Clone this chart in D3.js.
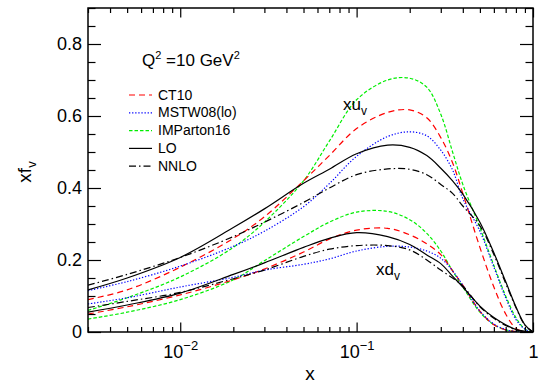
<!DOCTYPE html>
<html>
<head>
<meta charset="UTF-8">
<title>Valence distributions xf_v at Q2 = 10 GeV2</title>
<script src="https://cdnjs.cloudflare.com/ajax/libs/d3/7.8.5/d3.min.js"></script>
<style>
  body { margin: 0; background: #fff; }
  svg { display: block; font-family: "Liberation Sans", Arial, sans-serif; }
  .tick line { stroke: #000; stroke-width: 1.2; }
  .tick text { font-size: 18px; fill: #000; }
  .curve { fill: none; stroke-width: 1.2; }
  .legend text { font-size: 14px; }
</style>
</head>
<body>
<div id="chart"></div>
<script>
const xGrid = [0.003, 0.005, 0.01, 0.02, 0.03, 0.05, 0.07, 0.1, 0.15, 0.2, 0.25, 0.3, 0.35, 0.4, 0.5, 0.6, 0.7, 0.8, 0.9, 1.0];

// x*u_v
const uCT10 = [0.090, 0.117, 0.180, 0.260, 0.320, 0.420, 0.490, 0.565, 0.610, 0.617, 0.595, 0.540, 0.470, 0.385, 0.235, 0.125, 0.050, 0.010, 0.001, 0];
const uMSTW = [0.115, 0.140, 0.183, 0.238, 0.280, 0.348, 0.412, 0.488, 0.543, 0.556, 0.545, 0.505, 0.450, 0.370, 0.280, 0.180, 0.095, 0.035, 0.008, 0];
const uIMP  = [0.060, 0.095, 0.153, 0.235, 0.305, 0.420, 0.530, 0.645, 0.700, 0.705, 0.680, 0.605, 0.500, 0.410, 0.290, 0.185, 0.100, 0.040, 0.008, 0];
const uLO   = [0.117, 0.150, 0.207, 0.290, 0.342, 0.413, 0.452, 0.495, 0.519, 0.513, 0.490, 0.455, 0.420, 0.383, 0.305, 0.220, 0.140, 0.070, 0.020, 0];
const uNNLO = [0.130, 0.160, 0.207, 0.265, 0.305, 0.360, 0.400, 0.437, 0.453, 0.452, 0.437, 0.410, 0.385, 0.350, 0.295, 0.215, 0.135, 0.068, 0.019, 0];

// x*d_v
const dCT10 = [0.050, 0.070, 0.103, 0.145, 0.175, 0.222, 0.258, 0.283, 0.288, 0.270, 0.245, 0.215, 0.170, 0.130, 0.058, 0.020, 0.006, 0.001, 0, 0];
const dMSTW = [0.078, 0.095, 0.125, 0.152, 0.172, 0.188, 0.203, 0.225, 0.238, 0.236, 0.225, 0.205, 0.170, 0.130, 0.058, 0.022, 0.007, 0.001, 0, 0];
const dIMP  = [0.036, 0.055, 0.090, 0.145, 0.198, 0.265, 0.305, 0.333, 0.335, 0.312, 0.274, 0.225, 0.170, 0.125, 0.055, 0.020, 0.006, 0.001, 0, 0];
const dLO   = [0.055, 0.075, 0.108, 0.160, 0.192, 0.235, 0.260, 0.276, 0.265, 0.243, 0.214, 0.190, 0.155, 0.125, 0.072, 0.040, 0.020, 0.007, 0.002, 0];
const dNNLO = [0.068, 0.085, 0.110, 0.148, 0.172, 0.210, 0.230, 0.240, 0.240, 0.228, 0.200, 0.172, 0.150, 0.128, 0.070, 0.038, 0.018, 0.006, 0.001, 0];

const pdfNames = ["CT10", "MSTW08(lo)", "IMParton16", "LO", "NNLO"];
const yMajor = [0, 0.2, 0.4, 0.6, 0.8];
const xMajor = [0.01, 0.1, 1];

const width = 541, height = 385;
const plot = {left: 88, right: 533, top: 8, bottom: 332};

const styles = {
  "CT10":       {color: "#ff0000", dash: "6,4"},
  "MSTW08(lo)": {color: "#0000ff", dash: "1.3,1.8"},
  "IMParton16": {color: "#00ee00", dash: "3.5,2"},
  "LO":         {color: "#000000", dash: null},
  "NNLO":       {color: "#000000", dash: "7,3,1.5,3"}
};

const series = [
  {name: "IMParton16", u: uIMP,  d: dIMP},
  {name: "CT10",       u: uCT10, d: dCT10},
  {name: "MSTW08(lo)", u: uMSTW, d: dMSTW},
  {name: "NNLO",       u: uNNLO, d: dNNLO},
  {name: "LO",         u: uLO,   d: dLO}
];

const x = d3.scaleLog().domain([0.003, 1]).range([plot.left, plot.right]);
const y = d3.scaleLinear().domain([0, 0.9]).range([plot.bottom, plot.top]);

const svg = d3.select("#chart").append("svg")
  .attr("width", width)
  .attr("height", height);

// curves
const line = d3.line()
  .x(d => x(d[0]))
  .y(d => y(d[1]))
  .curve(d3.curveCatmullRom.alpha(0.5));

svg.append("clipPath").attr("id", "clip")
  .append("rect")
  .attr("x", plot.left).attr("y", plot.top)
  .attr("width", plot.right - plot.left).attr("height", plot.bottom - plot.top);

const curves = svg.append("g").attr("clip-path", "url(#clip)");
series.forEach(s => {
  ["u", "d"].forEach(k => {
    curves.append("path")
      .attr("class", "curve")
      .attr("d", line(xGrid.map((v, i) => [v, s[k][i]])))
      .attr("stroke", styles[s.name].color)
      .attr("stroke-dasharray", styles[s.name].dash);
  });
});

// minor tick values
const yMinor = d3.range(0, 0.91, 0.05).filter(v => !yMajor.some(m => Math.abs(m - v) < 1e-6));
const xMinor = [];
[0.001, 0.01, 0.1].forEach(dec => {
  for (let m = 2; m <= 9; m++) {
    const v = m * dec;
    if (v >= 0.003 && v <= 1) xMinor.push(v);
  }
});

// left / right axes
svg.append("g")
  .attr("transform", `translate(${plot.left},0)`)
  .call(d3.axisLeft(y).tickValues(yMajor).tickSize(-13).tickPadding(6)
    .tickFormat(d => d === 0 ? "0" : d3.format(".1f")(d)));
svg.append("g")
  .attr("transform", `translate(${plot.left},0)`)
  .call(d3.axisLeft(y).tickValues(yMinor).tickSize(-7.5).tickFormat(""));
svg.append("g")
  .attr("transform", `translate(${plot.right},0)`)
  .call(d3.axisRight(y).tickValues(yMajor).tickSize(-13).tickFormat(""));
svg.append("g")
  .attr("transform", `translate(${plot.right},0)`)
  .call(d3.axisRight(y).tickValues(yMinor).tickSize(-7.5).tickFormat(""));

// bottom / top axes
const xAxisG = svg.append("g")
  .attr("transform", `translate(0,${plot.bottom})`)
  .call(d3.axisBottom(x).tickValues(xMajor).tickSize(-9.5).tickPadding(12).tickFormat(""));
svg.append("g")
  .attr("transform", `translate(0,${plot.bottom})`)
  .call(d3.axisBottom(x).tickValues(xMinor).tickSize(-5).tickFormat(""));
svg.append("g")
  .attr("transform", `translate(0,${plot.top})`)
  .call(d3.axisTop(x).tickValues(xMajor).tickSize(-9.5).tickFormat(""));
svg.append("g")
  .attr("transform", `translate(0,${plot.top})`)
  .call(d3.axisTop(x).tickValues(xMinor).tickSize(-5).tickFormat(""));

svg.selectAll(".domain").remove();

// powers of ten labels
xAxisG.selectAll(".tick text").each(function(d) {
  const t = d3.select(this).attr("y", 26).attr("dy", null);
  const p = Math.round(Math.log10(d));
  if (p === 0) {
    t.text("1");
  } else {
    t.append("tspan").text("10");
    t.append("tspan").attr("dy", -8).style("font-size", "13px").text("\u2212" + Math.abs(p));
  }
});

// frame
svg.append("rect")
  .attr("x", plot.left).attr("y", plot.top)
  .attr("width", plot.right - plot.left).attr("height", plot.bottom - plot.top)
  .attr("fill", "none").attr("stroke", "#000").attr("stroke-width", 1.5);

// axis titles
svg.append("text")
  .attr("x", 310).attr("y", 380)
  .attr("text-anchor", "middle")
  .style("font-size", "19px")
  .text("x");

const yTitle = svg.append("text")
  .attr("transform", "translate(31,172) rotate(-90)")
  .attr("text-anchor", "middle")
  .style("font-size", "19px");
yTitle.append("tspan").text("xf");
yTitle.append("tspan").attr("dy", 5).style("font-size", "13px").text("v");

// Q^2 annotation
const qText = svg.append("text")
  .attr("x", 142).attr("y", 66)
  .style("font-size", "17px");
qText.append("tspan").text("Q");
qText.append("tspan").attr("dy", -7).style("font-size", "11px").text("2");
qText.append("tspan").attr("dy", 7).text(" =10 GeV");
qText.append("tspan").attr("dy", -7).style("font-size", "11px").text("2");

// curve labels
const uLabel = svg.append("text").attr("x", 343).attr("y", 110).style("font-size", "17px");
uLabel.append("tspan").text("xu");
uLabel.append("tspan").attr("dy", 5).style("font-size", "12px").text("v");

const dLabel = svg.append("text").attr("x", 376).attr("y", 275).style("font-size", "17px");
dLabel.append("tspan").text("xd");
dLabel.append("tspan").attr("dy", 5).style("font-size", "12px").text("v");

// legend
const legend = svg.append("g").attr("class", "legend");
pdfNames.forEach((name, i) => {
  const base = 99.5 + i * 17.8;
  legend.append("line")
    .attr("x1", 129).attr("x2", 152)
    .attr("y1", base - 4.5).attr("y2", base - 4.5)
    .attr("stroke", styles[name].color)
    .attr("stroke-width", 1.2)
    .attr("stroke-dasharray", styles[name].dash);
  legend.append("text")
    .attr("x", 158).attr("y", base)
    .text(name);
});
</script>
</body>
</html>
